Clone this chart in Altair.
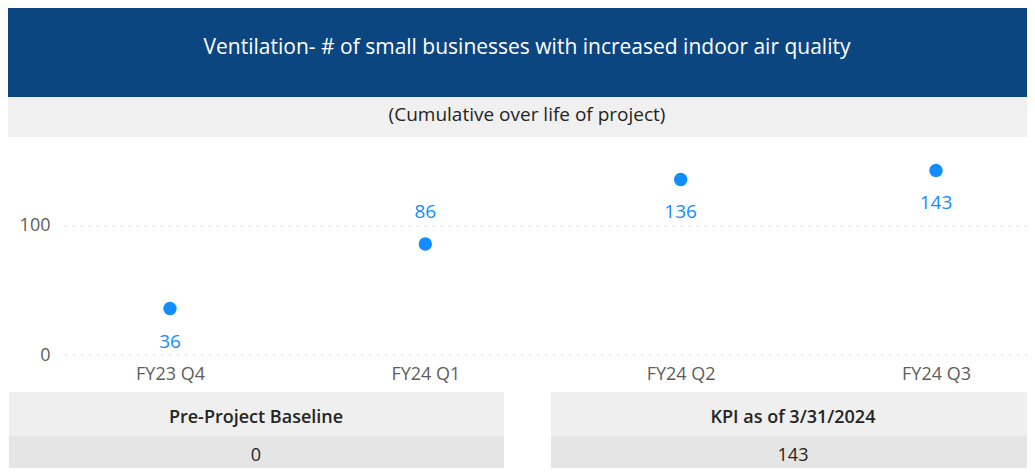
import altair as alt
import pandas as pd

# ---- data ----
quarters = ["FY23 Q4", "FY24 Q1", "FY24 Q2", "FY24 Q3"]
values = [36, 86, 136, 143]
label_side = ["below", "above", "below", "below"]
y_ticks = [0, 100]

title_text = "Ventilation- # of small businesses with increased indoor air quality"
subtitle_text = "(Cumulative over life of project)"
card_titles = ["Pre-Project Baseline", "KPI as of 3/31/2024"]
card_values = ["0", "143"]

# ---- layout / style ----
W, H = 1019, 460
FONT = "Open Sans"
BLUE = "#118DFF"
HEADER = "#0C4680"
GRAY_TXT = "#605E5C"
DARK_TXT = "#252423"

df = pd.DataFrame({"quarter": quarters, "value": values, "side": label_side})
grid_df = pd.DataFrame({"tick": y_ticks})
one = pd.DataFrame({"k": [0]})

x_scale = alt.Scale(domain=quarters, range=[162, 928], padding=0)
y_scale = alt.Scale(domain=[0, 165], range=[347, 134], nice=False, zero=True)

y_axis = alt.Axis(values=y_ticks, grid=False, domain=False, ticks=False,
                  labelPadding=15, offset=-57, title=None,
                  labelFont=FONT, labelFontSize=18, labelColor=GRAY_TXT)
x_axis = alt.Axis(grid=False, domain=False, ticks=False, labelAngle=0,
                  labelPadding=10, offset=-113, title=None,
                  labelFont=FONT, labelFontSize=18, labelColor=GRAY_TXT)


def rect(x1, x2, y1, y2, color):
    return alt.Chart(one).mark_rect(color=color).encode(
        x=alt.value(x1), x2=alt.value(x2), y=alt.value(y1), y2=alt.value(y2))


def label(text, x, y, size, color, weight="normal"):
    return alt.Chart(one).mark_text(
        text=text, font=FONT, fontSize=size, color=color, fontWeight=weight,
        align="center", baseline="middle").encode(x=alt.value(x), y=alt.value(y))


header = rect(0, W, 0, 89, HEADER)
subband = rect(0, W, 89, 129, "#F0F0F0")
title = label(title_text, 519, 40, 21, "white")
subtitle = label(subtitle_text, 519, 107, 19, DARK_TXT)

grid = alt.Chart(grid_df).mark_rule(
    color="#C8C8C8", strokeWidth=1, strokeDash=[1.5, 6.5]).encode(
    y=alt.Y("tick:Q", scale=y_scale, axis=y_axis),
    x=alt.value(57), x2=alt.value(W))

base = alt.Chart(df).encode(
    x=alt.X("quarter:N", scale=x_scale, axis=x_axis, sort=quarters),
    y=alt.Y("value:Q", scale=y_scale, axis=y_axis))

points = base.mark_circle(size=180, color=BLUE, opacity=1)
lab_above = base.transform_filter(alt.datum.side == "above").mark_text(
    dy=-32, font=FONT, fontSize=19, color=BLUE, baseline="middle").encode(
    text="value:Q")
lab_below = base.transform_filter(alt.datum.side == "below").mark_text(
    dy=33, font=FONT, fontSize=19, color=BLUE, baseline="middle").encode(
    text="value:Q")

card1_top = rect(1, 496, 384, 428, "#EFEFEF")
card1_bot = rect(1, 496, 428, H, "#E5E5E5")
card2_top = rect(543, W, 384, 428, "#EFEFEF")
card2_bot = rect(543, W, 428, H, "#E5E5E5")
c1t = label(card_titles[0], 248, 410, 18, DARK_TXT, 600)
c1v = label(card_values[0], 248, 448, 18, DARK_TXT)
c2t = label(card_titles[1], 785, 410, 18, DARK_TXT, 600)
c2v = label(card_values[1], 785, 448, 18, DARK_TXT)

chart = alt.layer(
    header, subband, title, subtitle,
    grid, points, lab_above, lab_below,
    card1_top, card1_bot, card2_top, card2_bot, c1t, c1v, c2t, c2v,
).properties(
    width=W, height=H, padding=0, background="white",
    autosize=alt.AutoSizeParams(type="none"),
).configure_view(stroke=None)

chart.save("out.html", embed_options={"renderer": "svg", "actions": False})
